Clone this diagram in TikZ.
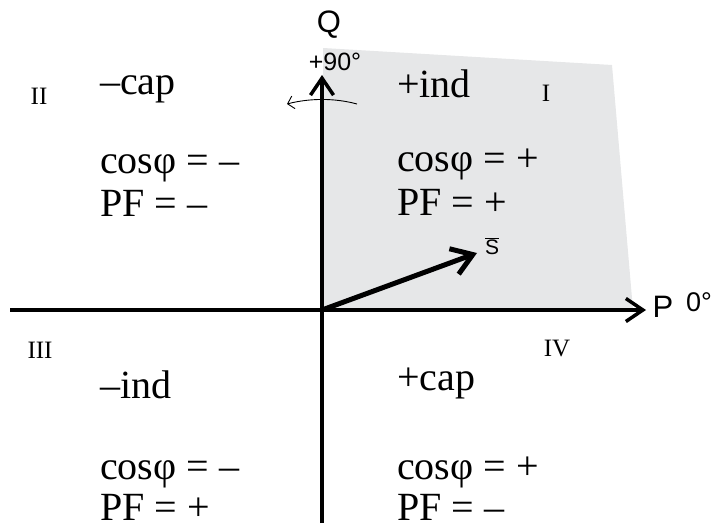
\documentclass[tikz,border=0pt]{standalone}
\usepackage{fontspec}
\setmainfont{Liberation Serif}
\newfontfamily\axisfont{Liberation Sans}
\usetikzlibrary{arrows.meta, positioning}
\definecolor{quadgray}{RGB}{230, 231, 232}

\begin{document}
\begin{tikzpicture}[x=1pt, y=-1pt,
  qtext/.style={anchor=base west, inner sep=0pt, font=\fontsize{40}{44}\selectfont},
  roman/.style={inner sep=0pt, font=\fontsize{25}{28}\selectfont},
  axlabel/.style={inner sep=0pt, font=\axisfont\fontsize{31}{34}\selectfont},
  axisline/.style={line width=3.5pt, -{Straight Barb[length=17pt, width=23pt]}}
]
  \useasboundingbox (0,0) rectangle (711,529);

  % shaded first quadrant
  \fill[quadgray] (323,48) -- (612,65) -- (633,310) -- (323,310) -- cycle;

  % axes
  \coordinate (O) at (322,310);
  \coordinate (Pstart) at (10,310);
  \coordinate (Ptip) at (646,310);
  \coordinate (Qstart) at (322,523);
  \coordinate (Qtip) at (322,75);
  \draw[axisline] (Pstart) -- (Ptip);
  \draw[axisline] (Qstart) -- (Qtip);

  \node[axlabel] (Q) at (329,25) {Q};
  \node[axlabel] (P) at (663,307) {P};
  \node[axlabel, font=\axisfont\fontsize{27}{30}\selectfont] (zero) at (699,302) {0°};
  \node[axlabel, font=\axisfont\fontsize{25}{28}\selectfont] (ninety) at (335,62) {+90°};

  % rotation arrow
  \coordinate (rotA) at (357,104);
  \coordinate (rotB) at (287,104);
  \draw[line width=0.9pt, -{Straight Barb[length=6pt, width=13pt]}]
    (rotA) .. controls (335,98) and (310,98) .. (rotB);

  % apparent power vector
  \coordinate (Stip) at (477,253);
  \draw[line width=5pt, -{Straight Barb[length=20pt, width=27pt]}] (O) -- (Stip);
  \node[axlabel, font=\axisfont\fontsize{21}{23}\selectfont] (S) at (492,246) {$\overline{\mbox{S}}$};

  % quadrant numbers
  \node[roman] (q2) at (39,96) {II};
  \node[roman] (q1) at (546,93) {I};
  \node[roman] (q3) at (40,350) {III};
  \node[roman] (q4) at (557,349) {IV};

  % quadrant I
  \node[qtext] (indp) at (397,98) {+ind};
  \node[qtext] (cos1) at (397,172) {cosφ = +};
  \node[qtext] (pf1) at (397,215) {PF = +};
  % quadrant II
  \node[qtext] (capm) at (100,95) {–cap};
  \node[qtext] (cos2) at (100,174) {cosφ = –};
  \node[qtext] (pf2) at (100,217) {PF = –};
  % quadrant III
  \node[qtext] (indm) at (100,398) {–ind};
  \node[qtext] (cos3) at (100,479) {cosφ = –};
  \node[qtext] (pf3) at (100,520) {PF = +};
  % quadrant IV
  \node[qtext] (capp) at (397,390) {+cap};
  \node[qtext] (cos4) at (397,479) {cosφ = +};
  \node[qtext] (pf4) at (397,520) {PF = –};
\end{tikzpicture}
\end{document}
